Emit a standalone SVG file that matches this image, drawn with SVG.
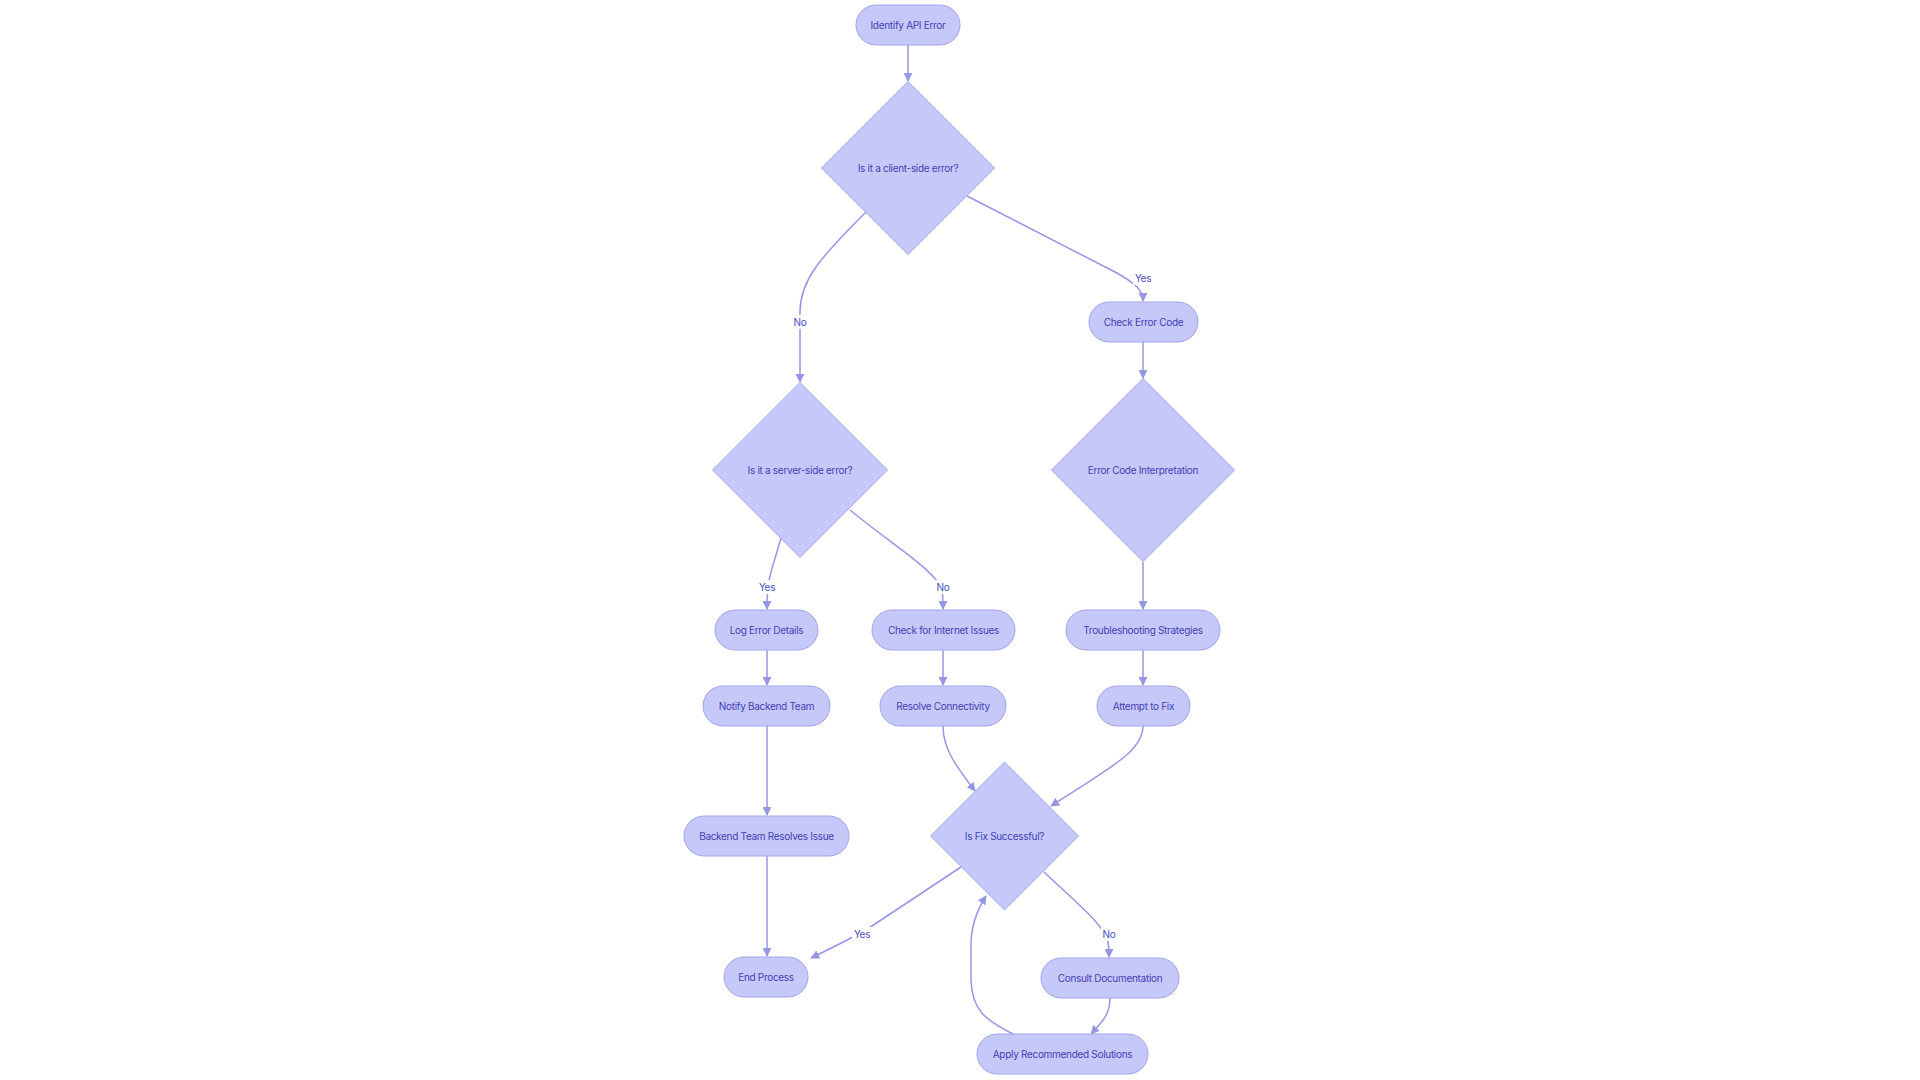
<svg xmlns="http://www.w3.org/2000/svg" width="1920" height="1080" viewBox="0 0 1920 1080">
<style>
.node rect,.node polygon{fill:#C7C8FA;stroke:#A3A4EC;stroke-width:1}
.node text{font-family:Inter,"Liberation Sans",sans-serif;font-size:10px;fill:#3F41B4;text-anchor:middle;dominant-baseline:central;letter-spacing:-0.3px}
.edge{fill:none;stroke:#9597E6;stroke-width:1.5}
.lbl rect{fill:#FFFFFF}
.lbl text{font-family:Inter,"Liberation Sans",sans-serif;font-size:10px;fill:#4A4CBC;text-anchor:middle;dominant-baseline:central;letter-spacing:-0.3px}
</style>
<defs>
<marker id="arr" viewBox="0 0 10 10" refX="9" refY="5" markerWidth="9" markerHeight="9" markerUnits="userSpaceOnUse" orient="auto">
<path d="M0,0 L10,5 L0,10 z" fill="#9597E6"/>
</marker>
</defs>
<rect width="1920" height="1080" fill="#FFFFFF"/>
<g id="connectors">
<path class="edge" marker-end="url(#arr)" d="M908,45 L908,81"/>
<path class="edge" marker-end="url(#arr)" d="M967,196 L1115,272 C1135,283 1143,290 1143,301"/>
<path class="edge" marker-end="url(#arr)" d="M866,212 C820,258 800,280 800,312 L800,382"/>
<path class="edge" marker-end="url(#arr)" d="M1143,342 L1143,378"/>
<path class="edge" marker-end="url(#arr)" d="M781,538 L771,572 C768,582 767,590 767,609"/>
<path class="edge" marker-end="url(#arr)" d="M850,510 C895,547 935,570 942,590 C943,595 943,600 943,609"/>
<path class="edge" marker-end="url(#arr)" d="M1143,562 L1143,609"/>
<path class="edge" marker-end="url(#arr)" d="M767,650 L767,685"/>
<path class="edge" marker-end="url(#arr)" d="M943,650 L943,685"/>
<path class="edge" marker-end="url(#arr)" d="M1143,650 L1143,685"/>
<path class="edge" marker-end="url(#arr)" d="M767,726 L767,815"/>
<path class="edge" marker-end="url(#arr)" d="M767,856 L767,956"/>
<path class="edge" marker-end="url(#arr)" d="M943,726 C943,748 955,765 975,791"/>
<path class="edge" marker-end="url(#arr)" d="M1143,726 C1143,750 1115,765 1051,806"/>
<path class="edge" marker-end="url(#arr)" d="M961,867 L872,926 C858,935 840,944 811,958"/>
<path class="edge" marker-end="url(#arr)" d="M1044,872 C1080,906 1104,925 1108,942 C1109,947 1109,951 1109,957"/>
<path class="edge" marker-end="url(#arr)" d="M1110,998 C1110,1015 1102,1022 1091,1034"/>
<path class="edge" marker-end="url(#arr)" d="M1013,1034 C985,1020 972,1010 971,980 L971,945 C971,925 977,910 986,896"/>
</g>
<g id="labels">
<g class="lbl"><rect x="1133" y="271" width="20" height="14"/><text x="1143" y="278">Yes</text></g>
<g class="lbl"><rect x="792" y="315" width="16" height="14"/><text x="800" y="322">No</text></g>
<g class="lbl"><rect x="757" y="580" width="20" height="14"/><text x="767" y="587">Yes</text></g>
<g class="lbl"><rect x="935" y="580" width="16" height="14"/><text x="943" y="587">No</text></g>
<g class="lbl"><rect x="852" y="927" width="20" height="14"/><text x="862" y="934">Yes</text></g>
<g class="lbl"><rect x="1101" y="927" width="16" height="14"/><text x="1109" y="934">No</text></g>
</g>
<g id="n1" class="node"><rect x="856" y="5" width="104" height="40" rx="20"/><text x="908" y="25">Identify API Error</text></g>
<g id="d1" class="node"><polygon points="908,81.5 994.5,168 908,254.5 821.5,168"/><text x="908" y="168">Is it a client-side error?</text></g>
<g id="n2" class="node"><rect x="1089" y="302" width="109" height="40" rx="20"/><text x="1143.5" y="322">Check Error Code</text></g>
<g id="d2" class="node"><polygon points="800,382.5 887.5,470 800,557.5 712.5,470"/><text x="800" y="470">Is it a server-side error?</text></g>
<g id="d3" class="node"><polygon points="1143,378.5 1234.5,470 1143,561.5 1051.5,470"/><text x="1143" y="470">Error Code Interpretation</text></g>
<g id="n3" class="node"><rect x="715" y="610" width="103" height="40" rx="20"/><text x="766.5" y="630">Log Error Details</text></g>
<g id="n4" class="node"><rect x="872" y="610" width="143" height="40" rx="20"/><text x="943.5" y="630">Check for Internet Issues</text></g>
<g id="n5" class="node"><rect x="1066" y="610" width="154" height="40" rx="20"/><text x="1143" y="630">Troubleshooting Strategies</text></g>
<g id="n6" class="node"><rect x="703" y="686" width="127" height="40" rx="20"/><text x="766.5" y="706">Notify Backend Team</text></g>
<g id="n7" class="node"><rect x="880" y="686" width="126" height="40" rx="20"/><text x="943" y="706">Resolve Connectivity</text></g>
<g id="n8" class="node"><rect x="1097" y="686" width="93" height="40" rx="20"/><text x="1143.5" y="706">Attempt to Fix</text></g>
<g id="n9" class="node"><rect x="684" y="816" width="165" height="40" rx="20"/><text x="766.5" y="836">Backend Team Resolves Issue</text></g>
<g id="d4" class="node"><polygon points="1004.5,762 1078.5,836 1004.5,910 930.5,836"/><text x="1004.5" y="836">Is Fix Successful?</text></g>
<g id="n10" class="node"><rect x="724" y="957" width="84" height="40" rx="20"/><text x="766" y="977">End Process</text></g>
<g id="n11" class="node"><rect x="1041" y="958" width="138" height="40" rx="20"/><text x="1110" y="978">Consult Documentation</text></g>
<g id="n12" class="node"><rect x="977" y="1034" width="171" height="40" rx="20"/><text x="1062.5" y="1054">Apply Recommended Solutions</text></g>
</svg>
